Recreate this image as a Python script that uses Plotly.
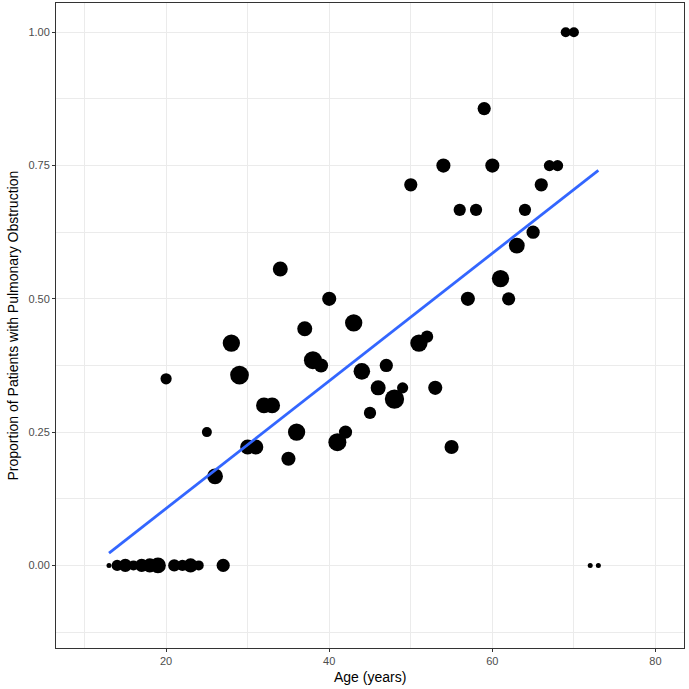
import plotly.graph_objects as go

# Data
age = [13, 14, 15, 16, 17, 18, 19, 20, 21, 22, 23, 24, 25, 26, 27, 28, 29, 30,
       31, 32, 33, 34, 35, 36, 37, 38, 39, 40, 41, 42, 43, 44, 45, 46, 47, 48,
       49, 50, 51, 52, 53, 54, 55, 56, 57, 58, 59, 60, 61, 62, 63, 64, 65, 66,
       67, 68, 69, 70, 72, 73]
proportion = [0, 0, 0, 0, 0, 0, 0, 0.35, 0, 0, 0, 0, 0.25, 0.167, 0, 0.417, 0.357, 0.222,
              0.222, 0.30, 0.30, 0.556, 0.20, 0.25, 0.444, 0.385, 0.375, 0.50, 0.231, 0.25,
              0.455, 0.364, 0.286, 0.333, 0.375, 0.312, 0.333, 0.714, 0.417, 0.429, 0.333,
              0.75, 0.222, 0.667, 0.50, 0.667, 0.857, 0.75, 0.538, 0.50, 0.60, 0.667, 0.625,
              0.714, 0.75, 0.75, 1.0, 1.0, 0, 0]
n_patients = [1, 5, 7, 4, 7, 8, 10, 5, 6, 5, 8, 4, 4, 10, 7, 12, 14, 9,
              9, 10, 10, 9, 8, 12, 9, 13, 8, 8, 13, 7, 12, 11, 6, 9, 7, 15,
              5, 7, 12, 6, 8, 8, 8, 6, 8, 6, 7, 8, 12, 7, 10, 6, 7, 7,
              5, 5, 4, 4, 1, 1]

# Linear fit line
fit_age = [13, 73]
fit_prop = [0.023, 0.741]

x_title = "Age (years)"
y_title = "Proportion of Patients with Pulmonary Obstruction"

font_family = "Liberation Sans, Arial, Helvetica, sans-serif"
grid_col = "#EBEBEB"

fig = go.Figure()
fig.add_trace(go.Scatter(
    x=age, y=proportion, mode="markers",
    marker=dict(size=n_patients, sizemode="area", sizeref=0.08, color="black",
                opacity=1, line=dict(width=0)),
    showlegend=False, hoverinfo="x+y"))
fig.add_trace(go.Scatter(
    x=fit_age, y=fit_prop, mode="lines",
    line=dict(color="#3366FF", width=2.8), showlegend=False))

fig.update_layout(
    width=689, height=689,
    margin=dict(l=56, r=5, t=3, b=41, autoexpand=False),
    paper_bgcolor="white", plot_bgcolor="white",
    font=dict(family=font_family, color="#4D4D4D", size=11),
    annotations=[
        dict(text=x_title, xref="paper", yref="paper", x=0.5, y=0,
             yshift=-29, xanchor="center", yanchor="middle", showarrow=False,
             font=dict(size=14, color="black", family=font_family)),
        dict(text=y_title, xref="paper", yref="paper", x=0, y=0.5,
             xshift=-44, xanchor="center", yanchor="middle", textangle=-90,
             showarrow=False,
             font=dict(size=14, color="black", family=font_family)),
    ],
)
fig.update_xaxes(
    range=[6.5, 83.5], tickmode="array", tickvals=[20, 40, 60, 80],
    ticks="outside", ticklen=3, tickcolor="#333333", tickwidth=1,
    showgrid=True, gridcolor=grid_col, gridwidth=1,
    minor=dict(tickmode="array", tickvals=[10, 30, 50, 70], showgrid=True,
               gridcolor=grid_col, gridwidth=0.5, ticks=""),
    showline=True, linecolor="#333333", linewidth=1, mirror=True,
    zeroline=False, automargin=False,
    tickfont=dict(size=11, color="#4D4D4D"),
)
fig.update_yaxes(
    range=[-0.155, 1.055], tickmode="array", tickvals=[0, 0.25, 0.5, 0.75, 1.0],
    ticktext=["0.00", "0.25", "0.50", "0.75", "1.00"],
    ticks="outside", ticklen=3, tickcolor="#333333", tickwidth=1,
    showgrid=True, gridcolor=grid_col, gridwidth=1,
    minor=dict(tickmode="array", tickvals=[-0.125, 0.125, 0.375, 0.625, 0.875],
               showgrid=True, gridcolor=grid_col, gridwidth=0.5, ticks=""),
    showline=True, linecolor="#333333", linewidth=1, mirror=True,
    zeroline=False, automargin=False,
    tickfont=dict(size=11, color="#4D4D4D"),
)

fig.write_html("out.html", config={"displayModeBar": False},
               post_script="document.body.style.margin='0';")
